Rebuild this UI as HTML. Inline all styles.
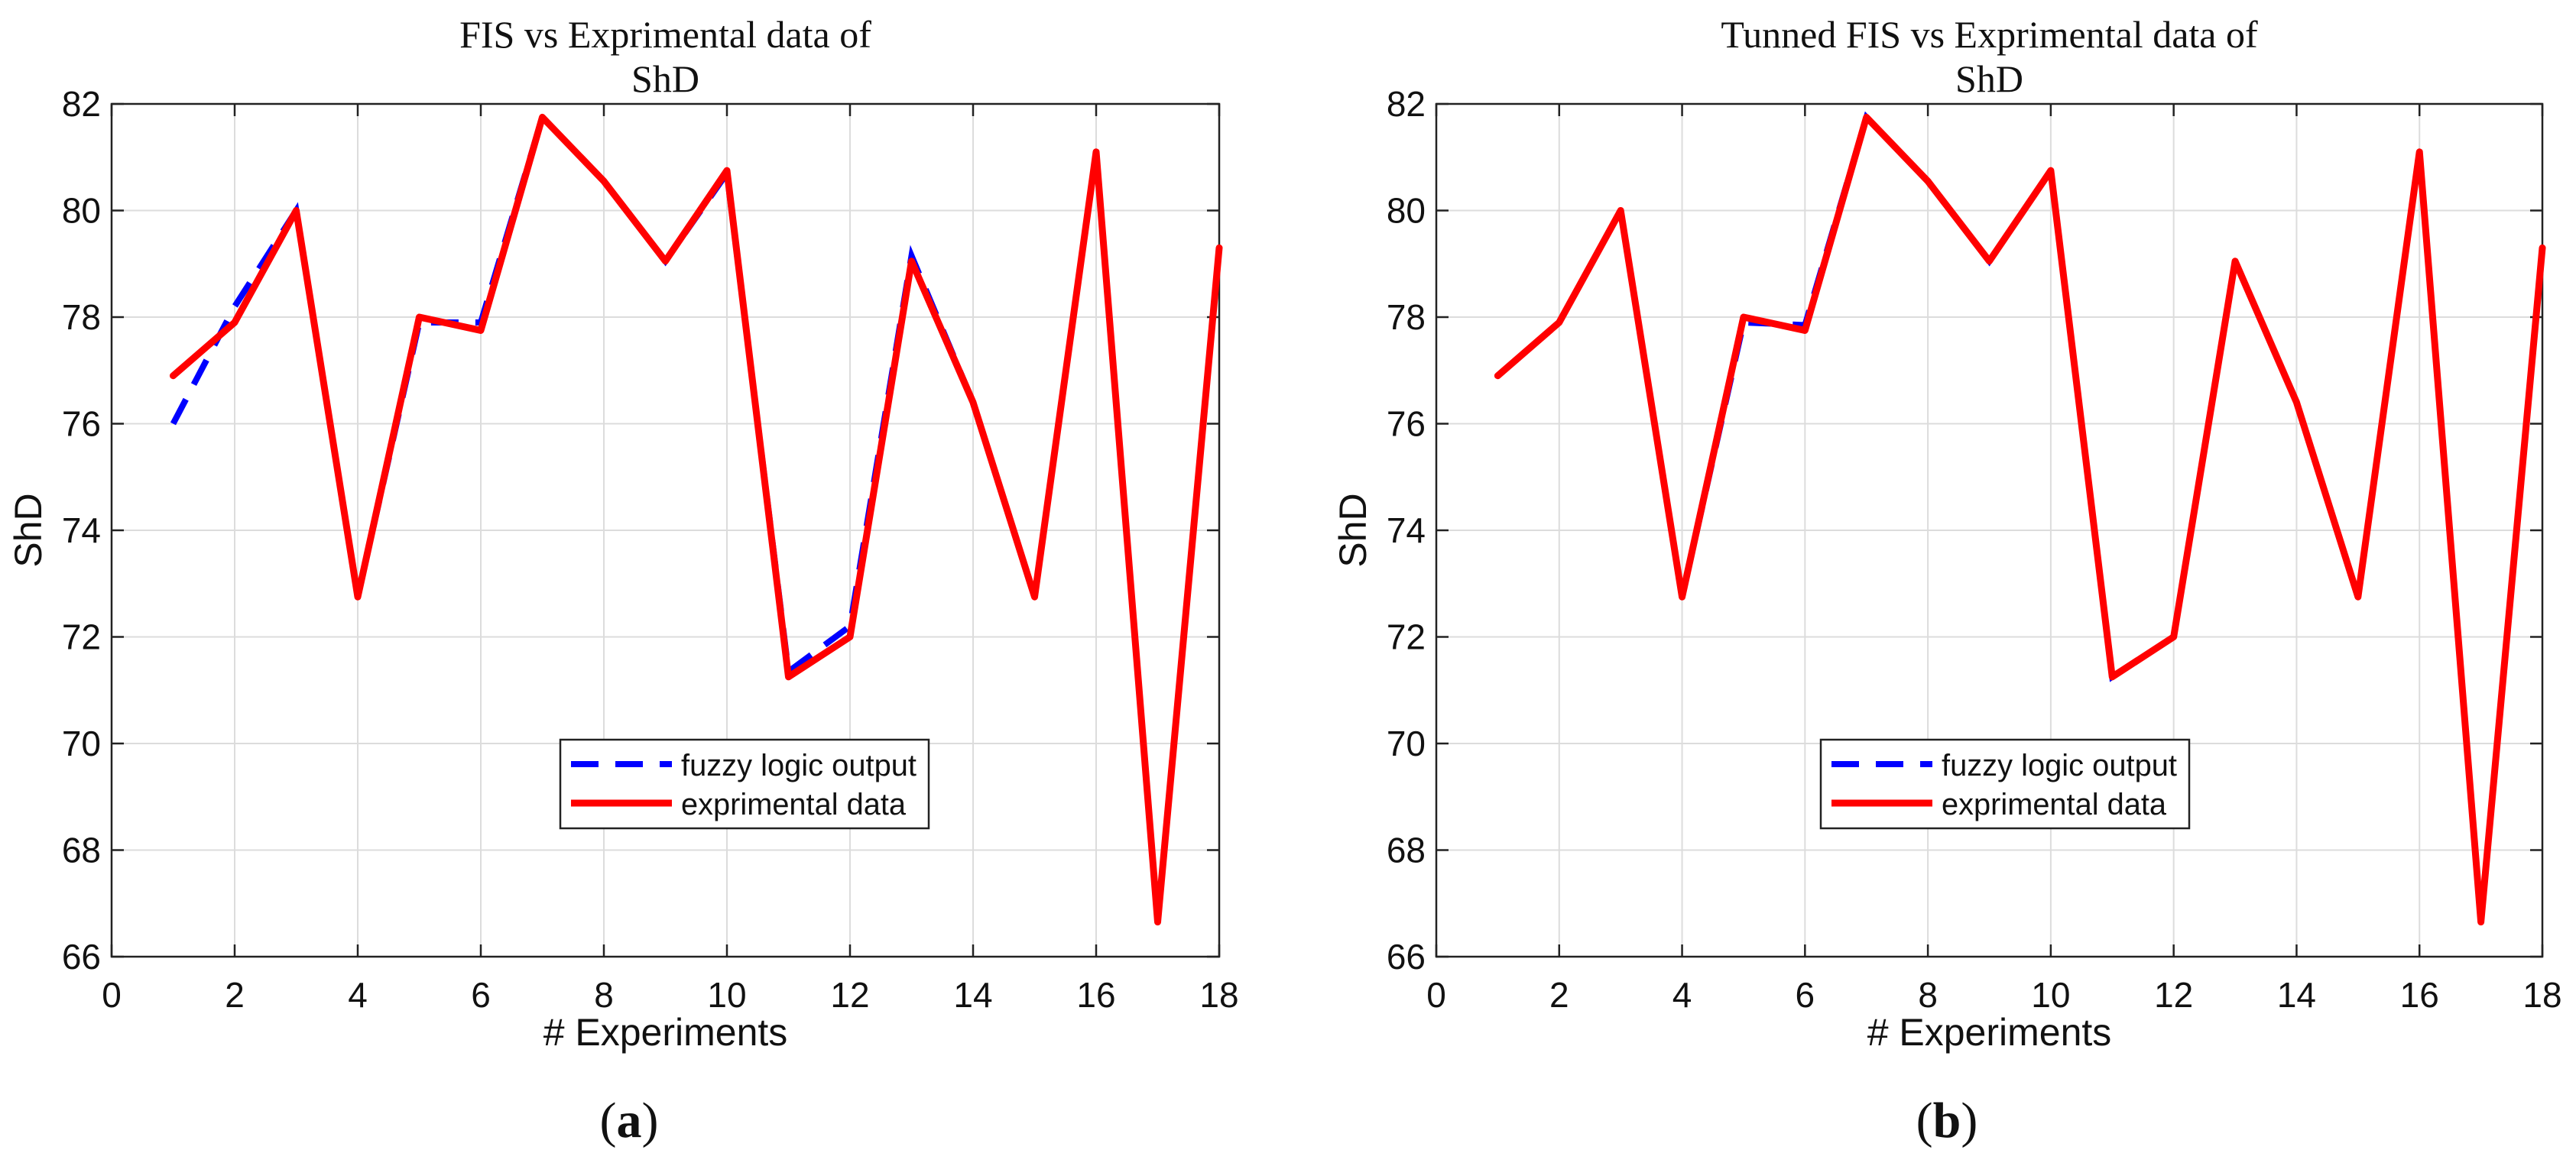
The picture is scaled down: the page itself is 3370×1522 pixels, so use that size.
<!DOCTYPE html>
<html><head><meta charset="utf-8"><style>
html,body{margin:0;padding:0;background:#fff;}
svg{display:block;}
</style></head><body>
<svg id="fig" width="3370" height="1522" xmlns="http://www.w3.org/2000/svg"></svg>
<script>
const xTicks = [0,2,4,6,8,10,12,14,16,18];
const yTicks = [66,68,70,72,74,76,78,80,82];
const experiments = [1,2,3,4,5,6,7,8,9,10,11,12,13,14,15,16,17,18];
const expData = [76.9,77.9,80,72.75,78,77.75,81.75,80.55,79.05,80.75,71.25,72,79.05,76.4,72.75,81.1,66.65,79.3];
const fuzzyA = [76,78.2,80,72.75,77.9,77.9,81.75,80.55,79.05,80.7,71.35,72.2,79.15,76.4,72.75,81.1,66.65,79.3];
const fuzzyB = [76.9,77.9,80,72.75,77.9,77.85,81.75,80.55,79.05,80.75,71.25,72,79.05,76.4,72.75,81.1,66.65,79.3];

const NS="http://www.w3.org/2000/svg";
const svg=document.getElementById('fig');
function el(tag,attrs,parent){const e=document.createElementNS(NS,tag);for(const k in attrs)e.setAttribute(k,attrs[k]);(parent||svg).appendChild(e);return e;}

function panel(id,L,R,title1,title2,fuzzy,legX,labelX,labelTxt){
  const T=136,B=1252;
  const g=el('g',{});
  
  
  const sx=v=>L+(v-0)/(18-0)*(R-L);
  const sy=v=>B-(v-66)/(82-66)*(B-T);
  xTicks.forEach(t=>{const l=el('line',{x1:sx(t),x2:sx(t),y1:T,y2:B,stroke:'#dcdcdc','stroke-width':2},g);
    });
  yTicks.forEach(t=>{const l=el('line',{x1:L,x2:R,y1:sy(t),y2:sy(t),stroke:'#dcdcdc','stroke-width':2},g);
    });
  xTicks.forEach(t=>{
    el('line',{x1:sx(t),x2:sx(t),y1:B,y2:B-16,stroke:'#222','stroke-width':2.5},g);
    el('line',{x1:sx(t),x2:sx(t),y1:T,y2:T+16,stroke:'#222','stroke-width':2.5},g);
    const tx=el('text',{x:sx(t),y:B+66,'font-family':'Liberation Sans, sans-serif','font-size':46,'text-anchor':'middle',fill:'#111'},g);
    tx.textContent=t;
  });
  yTicks.forEach(t=>{
    el('line',{x1:L,x2:L+16,y1:sy(t),y2:sy(t),stroke:'#222','stroke-width':2.5},g);
    el('line',{x1:R,x2:R-16,y1:sy(t),y2:sy(t),stroke:'#222','stroke-width':2.5},g);
    const tx=el('text',{x:L-14,y:sy(t)+16,'font-family':'Liberation Sans, sans-serif','font-size':46,'text-anchor':'end',fill:'#111'},g);
    tx.textContent=t;
  });
  const box=el('rect',{x:L,y:T,width:R-L,height:B-T,fill:'none',stroke:'#222','stroke-width':2.5},g);
  
  const pts=arr=>arr.map((v,i)=>sx(experiments[i])+','+sy(v)).join(' ');
  const fz=el('polyline',{points:pts(fuzzy),fill:'none',stroke:'#0000ff','stroke-width':8,'stroke-dasharray':'36,22'},g);
  
  const ex=el('polyline',{points:pts(expData),fill:'none',stroke:'#ff0000','stroke-width':9,'stroke-linejoin':'round','stroke-linecap':'round'},g);
  
  const cx=(L+R)/2;
  const t1=el('text',{x:cx,y:62,'font-family':'Liberation Serif, serif','font-size':50,'text-anchor':'middle',fill:'#111'},g);
  t1.textContent=title1;
  const t2=el('text',{x:cx,y:120,'font-family':'Liberation Serif, serif','font-size':50,'text-anchor':'middle',fill:'#111'},g);
  t2.textContent=title2;
  const xl=el('text',{x:cx,y:1368,'font-family':'Liberation Sans, sans-serif','font-size':50,'text-anchor':'middle',fill:'#111'},g);
  xl.textContent='# Experiments';
  const yl=el('text',{x:0,y:0,'font-family':'Liberation Sans, sans-serif','font-size':50,'text-anchor':'middle',fill:'#111',transform:`translate(${L-92},${(T+B)/2}) rotate(-90)`},g);
  yl.textContent='ShD';
  const lg=el('g',{},g);
  
  el('rect',{x:legX,y:968,width:482,height:116,fill:'#fff',stroke:'#222','stroke-width':2.5},lg);
  el('line',{x1:legX+14,x2:legX+146,y1:1000,y2:1000,stroke:'#0000ff','stroke-width':8,'stroke-dasharray':'36,22'},lg);
  el('line',{x1:legX+14,x2:legX+146,y1:1051,y2:1051,stroke:'#ff0000','stroke-width':9},lg);
  const e1=el('text',{x:legX+158,y:1015,'font-family':'Liberation Sans, sans-serif','font-size':40,fill:'#111',textLength:308,lengthAdjust:'spacingAndGlyphs'},lg);
  e1.textContent='fuzzy logic output';
  const e2=el('text',{x:legX+158,y:1066,'font-family':'Liberation Sans, sans-serif','font-size':40,fill:'#111',textLength:294,lengthAdjust:'spacingAndGlyphs'},lg);
  e2.textContent='exprimental data';
  const pl=el('text',{x:labelX,y:1488,'font-family':'Liberation Serif, serif','font-size':66,'text-anchor':'middle',fill:'#111'},g);
  const s1=el('tspan',{},pl);s1.textContent='(';
  const s2=el('tspan',{'font-weight':'bold'},pl);s2.textContent=labelTxt;
  const s3=el('tspan',{},pl);s3.textContent=')';
  
}
panel('panel-a',146,1595,'FIS vs Exprimental data of','ShD',fuzzyA,733,823,'a');
panel('panel-b',1879,3326,'Tunned FIS vs Exprimental data of','ShD',fuzzyB,2382,2547,'b');
</script>
</body></html>
